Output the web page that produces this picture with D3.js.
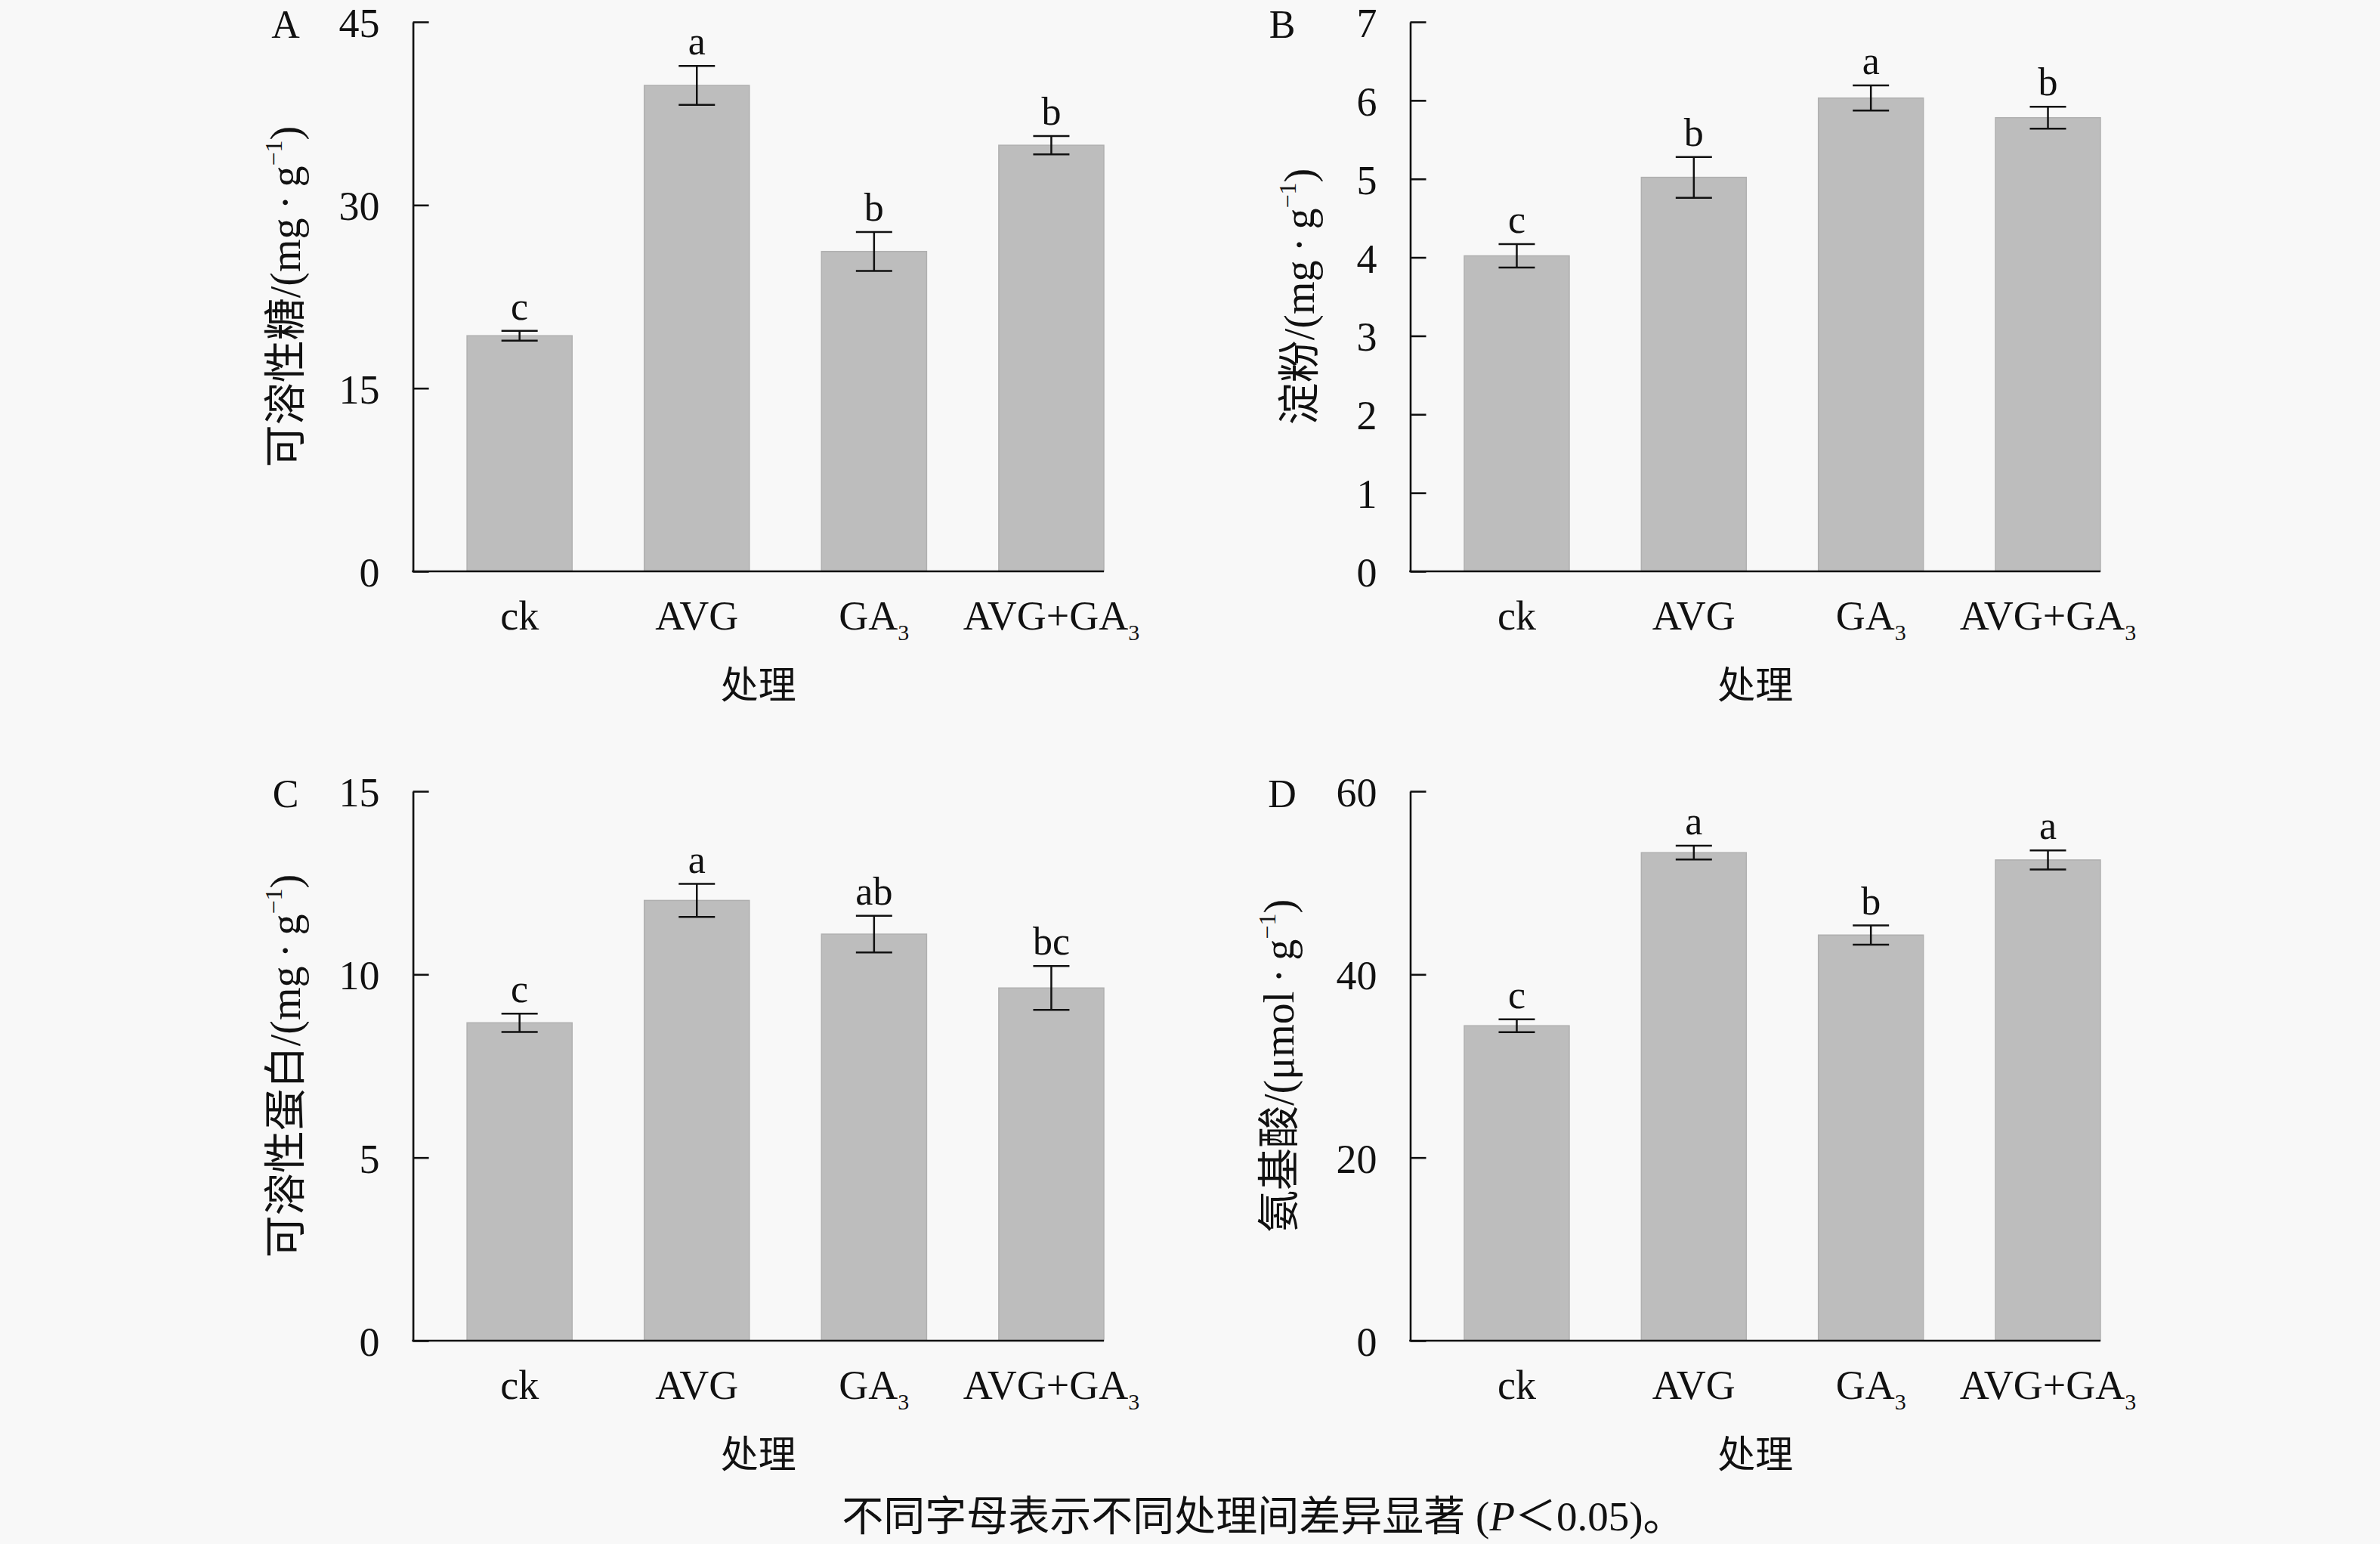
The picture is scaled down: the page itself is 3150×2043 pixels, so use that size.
<!DOCTYPE html>
<html>
<head>
<meta charset="utf-8">
<script src="https://cdn.jsdelivr.net/npm/d3@7"></script>
<style>
  body { margin: 0; background: #f8f8f8; }
  text { font-family: "Liberation Serif", "Noto Sans CJK SC", serif; fill: #111; }
</style>
</head>
<body>
<svg id="chart" width="3150" height="2043"></svg>
<script>
// Treatments (x categories), shared by all four panels.
const treatments = ["ck", "AVG", "GA3", "AVG+GA3"];

// A: soluble sugar (mg/g)
const sugarMean = [19.3, 39.8, 26.2, 34.9];
const sugarErr = [0.4, 1.6, 1.6, 0.75];
const sugarSig = ["c", "a", "b", "b"];
const sugarTicks = [0, 15, 30, 45];

// B: starch (mg/g)
const starchMean = [4.02, 5.02, 6.03, 5.78];
const starchErr = [0.15, 0.26, 0.16, 0.14];
const starchSig = ["c", "b", "a", "b"];
const starchTicks = [0, 1, 2, 3, 4, 5, 6, 7];

// C: soluble protein (mg/g)
const proteinMean = [8.68, 12.02, 11.1, 9.63];
const proteinErr = [0.25, 0.45, 0.5, 0.6];
const proteinSig = ["c", "a", "ab", "bc"];
const proteinTicks = [0, 5, 10, 15];

// D: amino acid (umol/g)
const aminoMean = [34.4, 53.3, 44.3, 52.5];
const aminoErr = [0.7, 0.75, 1.05, 1.05];
const aminoSig = ["c", "a", "b", "a"];
const aminoTicks = [0, 20, 40, 60];

const panelLetters = ["A", "B", "C", "D"];
const yTitles = ["可溶性糖", "淀粉", "可溶性蛋白", "氨基酸"];
const yUnits = ["mg\u2009·\u2009g", "mg\u2009·\u2009g", "mg\u2009·\u2009g", "μmol\u2009·\u2009g"];
const xTitle = "处理";
const footnote = "不同字母表示不同处理间差异显著 (";

let svg = d3.select("#chart");

// Layout: plot boxes by column / row.
let cols = [{ left: 546.6, right: 1461, letterX: 378 }, { left: 1866.5, right: 2780, letterX: 1697 }];
let rows = [{ top: 29, bottom: 756 }, { top: 1047, bottom: 1774 }];

let panels = [
    { mean: sugarMean, err: sugarErr, sig: sugarSig, ticks: sugarTicks, col: 0, row: 0, titleX: 377 },
    { mean: starchMean, err: starchErr, sig: starchSig, ticks: starchTicks, col: 1, row: 0, titleX: 1719 },
    { mean: proteinMean, err: proteinErr, sig: proteinSig, ticks: proteinTicks, col: 0, row: 1, titleX: 377 },
    { mean: aminoMean, err: aminoErr, sig: aminoSig, ticks: aminoTicks, col: 1, row: 1, titleX: 1692 }
];

// Draw a category label with a trailing subscript "3".
function catLabel(sel, name) {
    let m = name.match(/^(.*?)(3)$/);
    if (m) {
        sel.append("tspan").text(m[1]);
        sel.append("tspan").attr("dy", 14).style("font-size", "30px").text(m[2]);
    } else {
        sel.text(name);
    }
}

panels.forEach(function(p, i) {
    let c = cols[p.col];
    let r = rows[p.row];

    let xScale = d3.scaleBand()
        .domain(treatments)
        .range([c.left + 71.5, c.right])
        .paddingInner(0.407)
        .paddingOuter(0);

    let yScale = d3.scaleLinear()
        .domain([0, d3.max(p.ticks)])
        .range([r.bottom, r.top]);

    let g = svg.append("g");

    // Bars.
    g.selectAll("rect.bar")
        .data(treatments)
        .enter()
        .append("rect")
        .attr("class", "bar")
        .attr("x", d => xScale(d))
        .attr("width", xScale.bandwidth())
        .attr("y", (d, k) => yScale(p.mean[k]))
        .attr("height", (d, k) => yScale(0) - yScale(p.mean[k]))
        .attr("fill", "#bdbdbd")
        .attr("stroke", "#b0b0b0")
        .attr("stroke-width", 1.5);

    // Error bars + significance letters.
    treatments.forEach(function(d, k) {
        let cx = xScale(d) + xScale.bandwidth() / 2;
        let hi = yScale(p.mean[k] + p.err[k]);
        let lo = yScale(p.mean[k] - p.err[k]);
        g.append("line")
            .attr("x1", cx).attr("x2", cx)
            .attr("y1", hi).attr("y2", lo)
            .attr("stroke", "#111").attr("stroke-width", 2.5);
        [hi, lo].forEach(yy => {
            g.append("line")
                .attr("x1", cx - 24).attr("x2", cx + 24)
                .attr("y1", yy).attr("y2", yy)
                .attr("stroke", "#111").attr("stroke-width", 2.5);
        });
        g.append("text")
            .attr("x", cx)
            .attr("y", hi - 15)
            .attr("text-anchor", "middle")
            .style("font-size", "52px")
            .text(p.sig[k]);
    });

    // Y axis with inward ticks.
    let yAxis = d3.axisLeft(yScale)
        .tickValues(p.ticks)
        .tickSize(-21)
        .tickSizeOuter(0)
        .tickPadding(44)
        .tickFormat(d3.format("d"));
    let ya = g.append("g")
        .attr("transform", "translate(" + c.left + ",0)")
        .call(yAxis);
    ya.select(".domain").attr("stroke", "#111").attr("stroke-width", 2.6);
    ya.selectAll(".tick line").attr("stroke", "#111").attr("stroke-width", 2.6);
    ya.selectAll(".tick text")
        .attr("dy", "0.36em")
        .style("font-size", "54px")
        .style("font-family", "Liberation Serif")
        .attr("fill", "#111");

    // X axis baseline.
    g.append("line")
        .attr("x1", c.left - 1.3).attr("x2", c.right)
        .attr("y1", r.bottom).attr("y2", r.bottom)
        .attr("stroke", "#111").attr("stroke-width", 2.6);

    // Category labels.
    treatments.forEach(function(d) {
        let t = g.append("text")
            .attr("x", xScale(d) + xScale.bandwidth() / 2)
            .attr("y", r.bottom + 77)
            .attr("text-anchor", "middle")
            .style("font-size", "54px");
        catLabel(t, d);
    });

    // X title.
    g.append("text")
        .attr("x", (c.left + c.right) / 2)
        .attr("y", r.bottom + 168)
        .attr("text-anchor", "middle")
        .style("font-size", "50px")
        .text(xTitle);

    // Y title, rotated.
    let yt = g.append("text")
        .attr("transform", "translate(" + p.titleX + "," + ((r.top + r.bottom) / 2) + ") rotate(-90)")
        .attr("text-anchor", "middle")
        .attr("dy", "0.35em")
        .style("font-size", "56px");
    yt.append("tspan").text(yTitles[i] + "/(" + yUnits[i]);
    yt.append("tspan").attr("dy", -24).style("font-size", "32px").text("−1");
    yt.append("tspan").attr("dy", 24).text(")");

    // Panel letter.
    g.append("text")
        .attr("x", c.letterX)
        .attr("y", r.top + 21)
        .attr("text-anchor", "middle")
        .style("font-size", "52px")
        .text(panelLetters[i]);
});

// Footnote.
let fn = svg.append("text")
    .attr("x", 1672)
    .attr("y", 2025)
    .attr("text-anchor", "middle")
    .style("font-size", "55px");
fn.append("tspan").text(footnote);
fn.append("tspan").style("font-style", "italic").text("P");
fn.append("tspan").text("＜0.05)。");
</script>
</body>
</html>
